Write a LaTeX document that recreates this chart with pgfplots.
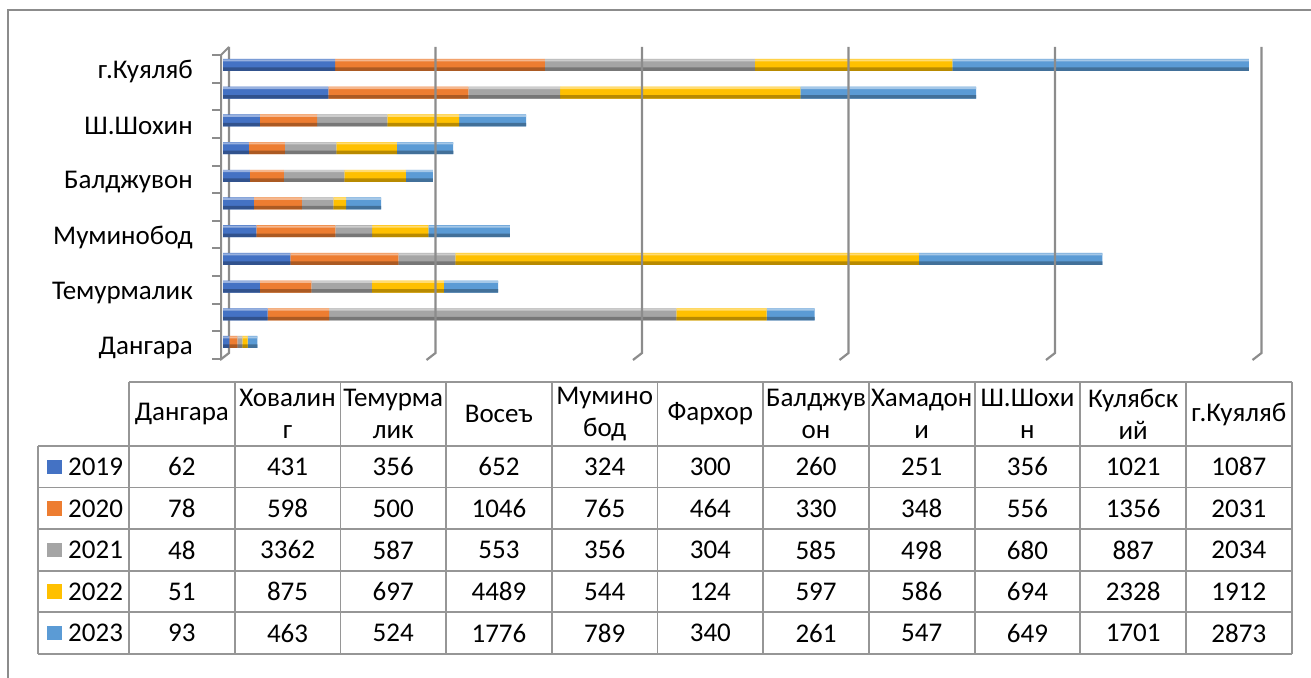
\documentclass[border=0pt]{standalone}
\usepackage{pgfplots}
\usepackage{pgfplotstable}
\pgfplotsset{compat=1.18}
\usepackage{fontspec}
\setmainfont{Carlito}

\definecolor{col2019}{HTML}{4472C4}
\definecolor{col2020}{HTML}{ED7D31}
\definecolor{col2021}{HTML}{A5A5A5}
\definecolor{col2022}{HTML}{FFC000}
\definecolor{col2023}{HTML}{5B9BD5}
\definecolor{gridgray}{HTML}{8C8C8C}
\definecolor{tablegray}{HTML}{969696}

% districts bottom to top: 0 Дангара ... 10 г.Куяляб
\pgfplotstableread{
idx y2019 y2020 y2021 y2022 y2023
0 62 78 48 51 93
1 431 598 3362 875 463
2 356 500 587 697 524
3 652 1046 553 4489 1776
4 324 765 356 544 789
5 300 464 304 124 340
6 260 330 585 597 261
7 251 348 498 586 547
8 356 556 680 694 649
9 1021 1356 887 2328 1701
10 1087 2031 2034 1912 2873
}\datatable

\newcommand{\bigfont}{\fontsize{27}{32}\selectfont}

% common frame of the bar axes (main body, shadow band, highlight band)
\pgfplotsset{
  baraxis/.style={
    at={(223pt,321.15pt)}, anchor=south west,
    scale only axis, width=1032.5pt, height=304.7pt,
    xmin=0, xmax=10000, ymin=-0.5, ymax=10.5,
    xbar stacked,
    axis line style={draw=none}, major tick length=0pt,
    xtick=\empty, clip=false,
  },
  bandaxis/.style={baraxis, ytick=\empty},
}

\newcommand{\stackedbars}[1]{%
  \addplot[draw=none, fill=col2019#1] table[x=y2019,y=idx]{\datatable};
  \addplot[draw=none, fill=col2020#1] table[x=y2020,y=idx]{\datatable};
  \addplot[draw=none, fill=col2021#1] table[x=y2021,y=idx]{\datatable};
  \addplot[draw=none, fill=col2022#1] table[x=y2022,y=idx]{\datatable};
  \addplot[draw=none, fill=col2023#1] table[x=y2023,y=idx]{\datatable};
}

\begin{document}
\begin{tikzpicture}[x=1pt,y=1pt]
\useasboundingbox (0,0) rectangle (1311,677);
% outer frame
\draw[gridgray, line width=2pt] (8,-20) -- (8,667) -- (1330,667);

% back wall line at zero
\draw[gridgray, line width=2.2pt] (229,630) -- (229,324) -- (220,317);

% main bar bodies with category labels
\begin{axis}[
  baraxis, bar width=12pt,
  ytick={0,2,4,6,8,10},
  yticklabels={Дангара,Темурмалик,Муминобод,Балджувон,Ш.Шохин,г.Куяляб},
  yticklabel style={font=\bigfont, inner sep=0pt, xshift=-30pt, yshift=-6pt},
]
\stackedbars{}
\end{axis}
% darker lower band
\begin{axis}[bandaxis, bar width=3.5pt, bar shift=-4.25pt]
\stackedbars{!72!black}
\end{axis}
% lighter upper band
\begin{axis}[bandaxis, bar width=2pt, bar shift=4.6pt]
\stackedbars{!55!white}
\end{axis}

% gridlines on the back wall with floor edges
\foreach \k in {1,...,5} {
  \pgfmathsetmacro\xb{229+206.5*\k}
  \draw[gridgray, line width=2.2pt] (\xb,630) -- (\xb,324) -- (\xb-9,317);
}
% front left edge with category ticks
\draw[gridgray, line width=2pt] (229,630) -- (221,622) -- (221,318);
\foreach \k in {0,...,11} {
  \pgfmathsetmacro\ty{622-27.64*\k}
  \draw[gridgray, line width=2pt] (212,\ty) -- (221,\ty);
}

% data table
\begin{scope}[tablegray, line width=1.8pt]
  \draw (129,295) -- (1292,295);
  \foreach \yy in {231,189.45,147.9,106.35,64.8,23.25}
    \draw (38,\yy) -- (1292,\yy);
  \draw (38,231) -- (38,23.25);
  \foreach \c in {0,...,11} {
    \pgfmathsetmacro\xv{129+105.7*\c}
    \draw (\xv,295) -- (\xv,23.25);
  }
\end{scope}

\foreach \name [count=\c from 0] in {Дангара,{Ховалин\\г},{Темурма\\лик},Восеъ,{Мумино\\бод},Фархор,{Балджув\\он},{Хамадон\\и},{Ш.Шохи\\н},{Кулябск\\ий},г.Куяляб} {
  \pgfmathsetmacro\xc{181.85+105.7*\c}
  \node[align=center, font=\bigfont, inner sep=0pt] at (\xc,263) {\name};
}

\foreach \yr [count=\r from 0] in {2019,2020,2021,2022,2023} {
  \pgfmathsetmacro\yc{210.2-41.55*\r}
  \fill[col\yr] (47,\yc-7.25) rectangle (62,\yc+7.25);
  \node[anchor=west, inner sep=0pt, font=\bigfont] at (68,\yc) {\yr};
  \foreach \c in {0,...,10} {
    \pgfplotstablegetelem{\c}{y\yr}\of\datatable
    \pgfmathsetmacro\xc{181.85+105.7*\c}
    \node[font=\bigfont, inner sep=0pt] at (\xc,\yc) {\pgfplotsretval};
  }
}
\end{tikzpicture}
\end{document}
